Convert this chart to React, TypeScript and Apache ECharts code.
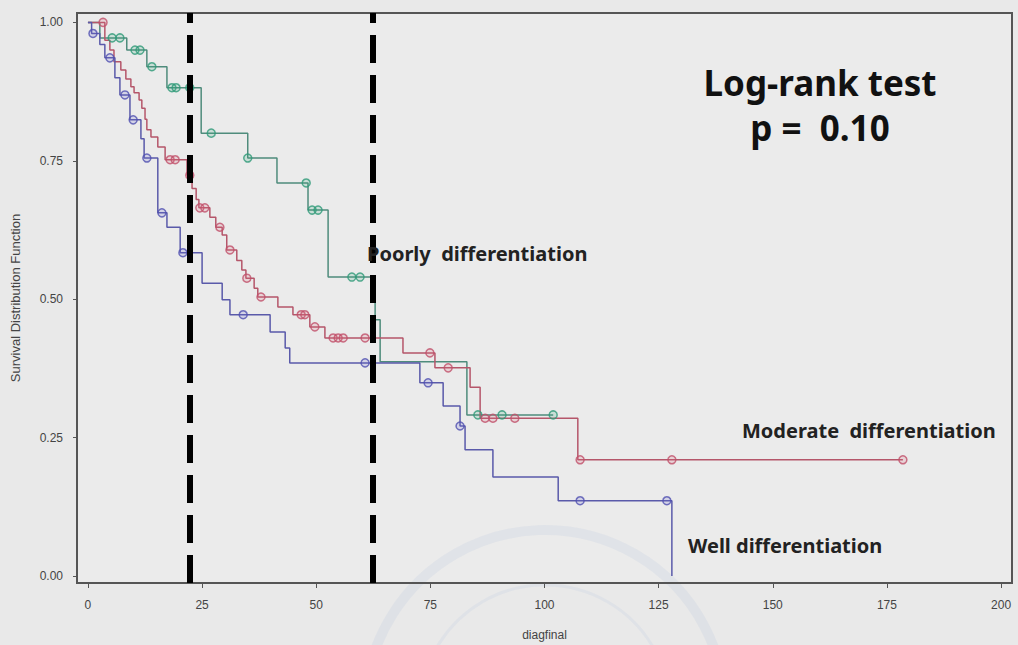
import React, { useEffect, useRef } from "react";
import * as echarts from "echarts";

// ---- data (time in months, survival probability) ----
const poorlyDropTimes = [2.6, 8.5, 12.9, 17.3, 24.8, 35, 41.4, 48.2, 52.6, 62.9, 64, 83];
const poorlySurv = [0.972, 0.95, 0.92, 0.882, 0.8, 0.755, 0.71, 0.661, 0.54, 0.463, 0.387, 0.291];
const poorlyCensored = [5.3, 7, 10.3, 11.4, 14, 18.4, 19.3, 22.3, 27, 35, 47.8, 49.1, 50.4, 57.8, 59.6, 85.4, 90.7, 101.9];
const poorlyEnd = 101.9;

const moderateDropTimes = [3.7, 4.8, 5.7, 7.2, 8.3, 9.4, 10.1, 11.2, 11.8, 12.5, 12.9, 13.8, 15.3, 16.9, 21.7, 22.8, 23.7, 24.3, 26.7, 28, 29.4, 30.4, 32.6, 33.7, 34.6, 36.4, 37.2, 41.6, 44.9, 48.6, 51.9, 69, 76, 83.7, 85.9, 107.3];
const moderateSurv = [0.968, 0.95, 0.929, 0.914, 0.898, 0.884, 0.873, 0.86, 0.845, 0.825, 0.806, 0.793, 0.775, 0.752, 0.724, 0.7, 0.68, 0.665, 0.648, 0.63, 0.616, 0.589, 0.57, 0.553, 0.538, 0.52, 0.504, 0.486, 0.472, 0.45, 0.43, 0.403, 0.376, 0.341, 0.285, 0.21];
const moderateCensored = [3.3, 18, 19.1, 22.3, 24.5, 25.6, 28.9, 31.1, 34.8, 37.9, 46.7, 47.5, 49.7, 53.7, 54.8, 55.9, 60.7, 74.9, 78.9, 87, 88.7, 93.5, 107.8, 127.9, 178.5];
const moderateEnd = 178.5;

const wellDropTimes = [0.8, 2.6, 3.7, 5.9, 7, 9.2, 11.6, 12.3, 15.3, 17.3, 20.2, 25, 29.4, 31.1, 39.9, 43.2, 44.2, 72.7, 77.8, 81.5, 82.6, 88.7, 103, 127.9];
const wellSurv = [0.98, 0.96, 0.936, 0.9, 0.869, 0.824, 0.79, 0.755, 0.656, 0.63, 0.584, 0.529, 0.499, 0.472, 0.441, 0.412, 0.385, 0.349, 0.307, 0.271, 0.228, 0.179, 0.136, 0];
const wellCensored = [1.1, 4.8, 8.1, 9.9, 12.9, 16.2, 20.8, 34, 60.7, 74.5, 81.5, 107.8, 126.8];
const wellEnd = 127.9;

const xTicks = [0, 25, 50, 75, 100, 125, 150, 175, 200];
const yTicks = [0, 0.25, 0.5, 0.75, 1];
const cutoffs = [22.3, 62.4];

function stepLine(times: number[], surv: number[], end: number) {
  const pts: number[][] = [[0, 1]];
  times.forEach((t, i) => pts.push([t, surv[i]]));
  pts.push([end, surv[surv.length - 1]]);
  return pts;
}
function survAt(times: number[], surv: number[], t: number) {
  let s = 1;
  for (let i = 0; i < times.length; i++) if (times[i] <= t) s = surv[i];
  return s;
}
function censorPts(times: number[], surv: number[], cens: number[]) {
  return cens.map((t) => [t, survAt(times, surv, t)]);
}

const groups = [
  { name: "Poorly", times: poorlyDropTimes, surv: poorlySurv, cens: poorlyCensored, end: poorlyEnd, line: "#4f8c7c", mark: "#2f9a78", fill: "rgba(60,170,130,0.25)" },
  { name: "Moderate", times: moderateDropTimes, surv: moderateSurv, cens: moderateCensored, end: moderateEnd, line: "#b5566a", mark: "#c0506a", fill: "rgba(220,110,130,0.25)" },
  { name: "Well", times: wellDropTimes, surv: wellSurv, cens: wellCensored, end: wellEnd, line: "#5a5aaa", mark: "#5050b0", fill: "rgba(110,110,210,0.25)" },
];

export default function App() {
  const ref = useRef<HTMLDivElement>(null);
  useEffect(() => {
    if (!ref.current) return;
    const chart = echarts.init(ref.current, null, { renderer: "svg" });
    const series: any[] = [];
    groups.forEach((g, gi) => {
      series.push({
        type: "line",
        name: g.name,
        step: "end",
        showSymbol: false,
        data: stepLine(g.times, g.surv, g.end),
        lineStyle: { color: g.line, width: 1.5 },
        z: 3,
        markLine:
          gi === 0
            ? {
                silent: true,
                symbol: "none",
                label: { show: false },
                lineStyle: { color: "#000", width: 6, type: [28, 12] },
                data: cutoffs.map((c) => ({ xAxis: c })),
                z: 10,
              }
            : undefined,
      });
      series.push({
        type: "scatter",
        name: g.name + " censored",
        data: censorPts(g.times, g.surv, g.cens),
        symbol: "circle",
        symbolSize: 8,
        itemStyle: { color: g.fill, borderColor: g.mark, borderWidth: 1.5 },
        z: 4,
      });
    });
    const font = "'Liberation Sans', Arial, sans-serif";
    const bold = "'Noto Sans', 'Open Sans', sans-serif";
    chart.setOption({
      animation: false,
      backgroundColor: "#e9e9e9",
      grid: {
        left: 77, right: 6, top: 13, bottom: 62,
        containLabel: false, outerBoundsMode: "none",
        show: true, borderColor: "#555", borderWidth: 2, backgroundColor: "#ebebeb",
      },
      xAxis: {
        type: "value",
        min: -2.4,
        max: 202.4,
        name: "diagfinal",
        nameLocation: "middle",
        nameGap: 46,
        nameTextStyle: { fontFamily: font, fontSize: 12, color: "#444" },
        splitLine: { show: false },
        axisLine: { show: true, onZero: false, lineStyle: { color: "#555", width: 2 } },
        axisTick: { show: true, customValues: xTicks, length: 5, lineStyle: { color: "#555" } },
        axisLabel: { customValues: xTicks, fontFamily: font, fontSize: 12, color: "#444", margin: 16 },
      },
      yAxis: {
        type: "value",
        min: -0.0126,
        max: 1.017,
        name: "Survival Distribution Function",
        nameLocation: "middle",
        nameGap: 55,
        nameTextStyle: { fontFamily: font, fontSize: 13, color: "#444" },
        splitLine: { show: false },
        axisLine: { show: true, onZero: false, lineStyle: { color: "#555", width: 2 } },
        axisTick: { show: true, customValues: yTicks, length: 4, lineStyle: { color: "#555" } },
        axisLabel: { customValues: yTicks, fontFamily: font, fontSize: 12, color: "#444", margin: 14, formatter: (v: number) => v.toFixed(2) },
      },
      graphic: [
        { type: "circle", shape: { cx: 545, cy: 710, r: 180 }, style: { fill: "none", stroke: "rgba(150,170,215,0.12)", lineWidth: 10 }, z: 0, silent: true },
        { type: "circle", shape: { cx: 545, cy: 710, r: 125 }, style: { fill: "none", stroke: "rgba(150,170,215,0.11)", lineWidth: 3 }, z: 0, silent: true },
        { type: "text", x: 820, y: 82, style: { text: "Log-rank test", font: `700 35px ${bold}`, fill: "#111", align: "center", verticalAlign: "middle" }, z: 20 },
        { type: "text", x: 820, y: 127, style: { text: "p =  0.10", font: `700 35px ${bold}`, fill: "#111", align: "center", verticalAlign: "middle" }, z: 20 },
        { type: "text", x: 367, y: 253, style: { text: "Poorly  differentiation", font: `700 20px ${bold}`, fill: "#222", align: "left", verticalAlign: "middle" }, z: 20 },
        { type: "text", x: 742, y: 430, style: { text: "Moderate  differentiation", font: `700 20px ${bold}`, fill: "#222", align: "left", verticalAlign: "middle" }, z: 20 },
        { type: "text", x: 688, y: 545, style: { text: "Well differentiation", font: `700 20px ${bold}`, fill: "#222", align: "left", verticalAlign: "middle" }, z: 20 },
      ],
      series,
    });
    return () => chart.dispose();
  }, []);
  return (
    <div style={{ position: "fixed", left: 0, top: 0, width: 1018, height: 645, background: "#e9e9e9" }}>
      <div ref={ref} style={{ width: 1018, height: 645 }} />
    </div>
  );
}
